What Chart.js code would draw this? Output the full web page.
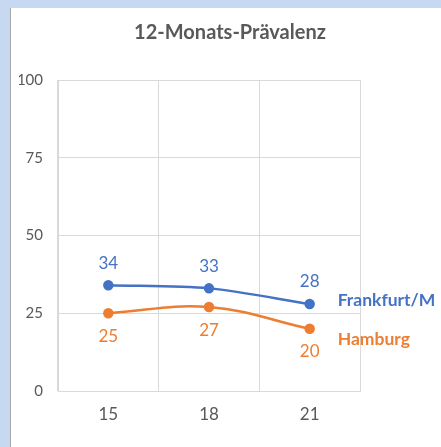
<!DOCTYPE html>
<html>
<head>
<meta charset="utf-8">
<script src="https://cdn.jsdelivr.net/npm/chart.js@4"></script>
<style>
  html, body { margin: 0; padding: 0; background: #c6d9f0; }
  #box {
    position: absolute; left: 10px; top: 8px;
    width: 430px; height: 439px;
    background: #fff; border-left: 1px solid #a6a6a6;
  }
  canvas { display: block; }
</style>
</head>
<body>
<div id="box"><canvas id="chart" width="430" height="439"></canvas></div>
<script>
const years = ['15', '18', '21'];
const frankfurt = [34, 33, 28];
const hamburg = [25, 27, 20];
const seriesNames = ['Frankfurt/M', 'Hamburg'];
const yTicks = [0, 25, 50, 75, 100];

const blue = '#4472c4';
const orange = '#ed7d31';
const gray = '#595959';
const fontName = 'Lato, "Open Sans", sans-serif';

// value labels + series names at line ends
const labelPlugin = {
    id: 'labels',
    afterDatasetsDraw(chart) {
        const ctx = chart.ctx;
        ctx.save();
        chart.data.datasets.forEach((ds, i) => {
            const meta = chart.getDatasetMeta(i);
            const above = i === 0;
            ctx.fillStyle = ds.borderColor;
            ctx.textAlign = 'center';
            ctx.textBaseline = 'middle';
            ctx.font = '17px ' + fontName;
            meta.data.forEach((pt, j) => {
                ctx.fillText(ds.data[j], pt.x, pt.y + (above ? -22 : 23));
            });
            const last = meta.data[meta.data.length - 1];
            ctx.textAlign = 'left';
            ctx.font = 'bold 17.5px ' + fontName;
            ctx.fillText(ds.label, last.x + 28, last.y + (above ? -4 : 11));
        });
        ctx.restore();
    }
};

new Chart(document.getElementById('chart'), {
    type: 'line',
    data: {
        labels: years,
        datasets: [{
            label: seriesNames[0],
            data: frankfurt,
            borderColor: blue,
            backgroundColor: blue,
            borderWidth: 2.5,
            pointRadius: 4,
            pointHoverRadius: 4,
            tension: 0.3
        }, {
            label: seriesNames[1],
            data: hamburg,
            borderColor: orange,
            backgroundColor: orange,
            borderWidth: 2.5,
            pointRadius: 4,
            pointHoverRadius: 4,
            tension: 0.4
        }]
    },
    options: {
        responsive: false,
        animation: false,
        layout: { padding: { left: 8, right: 0, top: 0, bottom: 0 } },
        plugins: {
            legend: { display: false },
            tooltip: { enabled: false },
            title: {
                display: true,
                text: '12-Monats-Prävalenz',
                color: gray,
                font: { family: fontName, size: 20, weight: 'bold' },
                padding: { top: 13, bottom: 35 }
            }
        },
        scales: {
            x: {
                offset: true,
                grid: { offset: true, color: '#d9d9d9', drawTicks: false },
                border: { color: '#d9d9d9' },
                ticks: { color: gray, padding: 13, font: { family: fontName, size: 17 } },
                afterFit(scale) { scale.height = 56; }
            },
            y: {
                min: 0,
                max: 100,
                afterBuildTicks(scale) { scale.ticks = yTicks.map(v => ({ value: v })); },
                grid: { color: '#d9d9d9', drawTicks: false },
                border: { color: '#d9d9d9' },
                ticks: { color: gray, padding: 15, font: { family: fontName, size: 15 } },
                afterFit(scale) { scale.width = 39; }
            },
            // empty right-side space for the series names
            side: {
                position: 'right',
                display: true,
                grid: { display: false, drawTicks: false },
                border: { display: false },
                ticks: { display: false },
                afterFit(scale) { scale.width = 81; }
            }
        }
    },
    plugins: [labelPlugin]
});
</script>
</body>
</html>
